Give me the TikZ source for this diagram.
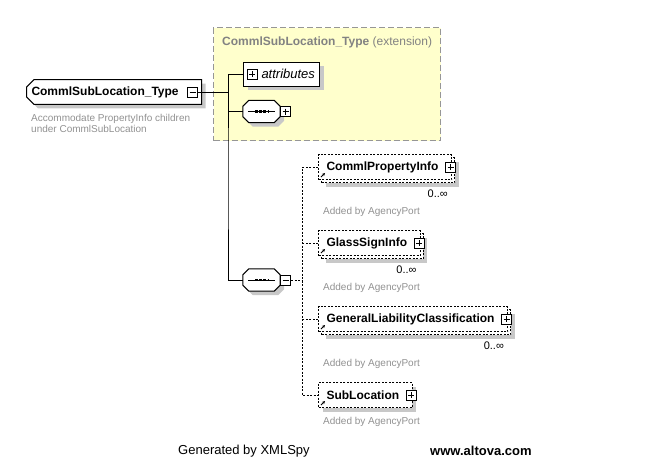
\documentclass[tikz,border=0pt]{standalone}
\usepackage{fontspec}
\setmainfont{Liberation Sans}
\usetikzlibrary{shapes.misc, arrows.meta, positioning, shadows}
\definecolor{extYellow}{RGB}{255, 255, 204}
\definecolor{extBorder}{RGB}{150, 150, 150}
\definecolor{shadowGray}{RGB}{200, 200, 200}
\definecolor{noteGray}{RGB}{145, 145, 145}
\definecolor{titleGray}{RGB}{130, 130, 130}
\tikzset{
    % Shadow under the boxes
    boxShadow/.style={
        drop shadow={fill=shadowGray, opacity=1, shadow xshift=#1, shadow yshift=-#1}
    },
    % Base style for all boxes
    schemaBox/.style={
        draw=black,
        fill=white,
        line width=1pt,
        text=black
    },
    % Specific styles
    typeBox/.style={
        schemaBox, boxShadow=4pt,
        chamfered rectangle,
        chamfered rectangle corners={north west, south west},
        chamfered rectangle xsep=4pt,
        minimum height=24pt,
        inner xsep=1pt,
        anchor=west,
        font=\bfseries\fontsize{12}{14}\selectfont,
        execute at end node={\hspace*{18pt}}
    },
    attrBox/.style={
        schemaBox, rectangle, boxShadow=4pt,
        minimum height=24pt, inner xsep=5pt, anchor=west,
        font=\itshape\fontsize{13}{15}\selectfont,
        execute at begin node={\hspace*{13pt}}
    },
    % Sequence compositor: the node holds the place, the outline is drawn round it
    seqBox/.style={
        rectangle, minimum width=37pt, minimum height=22pt, inner sep=0pt
    },
    seqOutline/.style={schemaBox, boxShadow=4pt},
    seqDots/.style={line width=2.6pt, dash pattern=on 2.6pt off 1.6pt},
    elemBase/.style={
        schemaBox, rectangle,
        dash pattern=on 2pt off 1.5pt,
        minimum height=25pt, inner xsep=8pt, anchor=west,
        font=\bfseries\fontsize{12}{14}\selectfont,
        execute at end node={\hspace*{5pt}},
        path picture={
            \draw[solid, line width=0.8pt, -{Stealth[length=3pt, width=3pt]}]
                ([shift={(2.5pt,2.5pt)}]path picture bounding box.south west) -- ++(4pt,4pt);
        }
    },
    elemSingle/.style={elemBase, boxShadow=4pt},
    elemMulti/.style={elemBase, boxShadow=7pt, copy shadow={shadow xshift=3pt, shadow yshift=-3pt}},
    % Expand and collapse buttons
    plusBox/.style={
        rectangle, draw=black, fill=white, solid, line width=0.8pt,
        minimum size=10pt, inner sep=0pt,
        path picture={
            \draw[line width=0.8pt] ([xshift=2pt]path picture bounding box.west) -- ([xshift=-2pt]path picture bounding box.east)
                ([yshift=-2pt]path picture bounding box.north) -- ([yshift=2pt]path picture bounding box.south);
        }
    },
    minusBox/.style={
        rectangle, draw=black, fill=white, solid, line width=0.8pt,
        minimum size=10pt, inner sep=0pt,
        path picture={
            \draw[line width=0.8pt] ([xshift=2pt]path picture bounding box.west) -- ([xshift=-2pt]path picture bounding box.east);
        }
    },
    % Group frame
    extFrame/.style={
        rectangle, draw=extBorder, fill=extYellow,
        line width=1pt, dash pattern=on 6pt off 3pt
    },
    extLabel/.style={font=\fontsize{12}{14}\selectfont, text=titleGray, anchor=west, inner sep=0pt},
    % Connector and text styles
    conn/.style={draw=black, line width=1pt},
    branchLine/.style={conn, dash pattern=on 2pt off 1.5pt},
    noteText/.style={font=\fontsize{10}{11}\selectfont, text=noteGray, inner sep=0pt, align=left},
    occText/.style={font=\fontsize{11}{13}\selectfont, inner sep=0pt},
    footText/.style={font=\fontsize{13}{15}\selectfont, inner sep=0pt, anchor=west}
}
\begin{document}
\begin{tikzpicture}[x=1pt, y=-1pt]
    \useasboundingbox (0,0) rectangle (650,467);

    % --- Extension group ---
    \node (extGroup) [extFrame, minimum width=227pt, minimum height=113pt, anchor=north west] at (213,27) {};
    \node (extTitle) [extLabel] at (222,42) {\textbf{CommlSubLocation\_Type} (extension)};

    % --- Complex type ---
    \node (typeElem) [typeBox] at (26,92) {CommlSubLocation\_Type};
    \node (typeMinus) [minusBox, left=4pt of typeElem.east] {};
    \node (typeNote) [noteText, anchor=north west] at (31,114) {Accommodate PropertyInfo children\\under CommlSubLocation};

    % --- Attributes and compositors ---
    \node (attrNode) [attrBox] at (243,74) {attributes};
    \node (attrPlus) [plusBox, right=4pt of attrNode.west] {};
    \node (seqTop) [seqBox] at (261.5,111.5) {};
    \node (seqBot) [seqBox] at (261.5,280) {};
    \foreach \seq in {seqTop, seqBot} {
        \draw [seqOutline] ([xshift=6pt]\seq.north west) -- ([xshift=-6pt]\seq.north east)
            -- ([yshift=-6pt]\seq.north east) -- ([yshift=6pt]\seq.south east)
            -- ([xshift=-6pt]\seq.south east) -- ([xshift=6pt]\seq.south west)
            -- ([yshift=6pt]\seq.south west) -- ([yshift=-6pt]\seq.north west) -- cycle;
        \draw [line width=1pt] ([xshift=5pt]\seq.west) -- ([xshift=-5pt]\seq.east);
        \draw [seqDots] ([xshift=-6.5pt]\seq.center) -- ([xshift=6.5pt]\seq.center);
    }
    \node (seqTopPlus) [plusBox, right=0pt of seqTop.east] {};
    \node (seqBotMinus) [minusBox, right=0pt of seqBot.east] {};
    \coordinate (trunk) at (228,180);
    \coordinate (fork) at (302,280);

    % --- Child elements ---
    \node (propElem) [elemMulti] at (318,167) {CommlPropertyInfo};
    \node (propPlus) [plusBox, left=-4pt of propElem.east] {};
    \node (propOcc) [occText, below left=10pt and 4pt of propElem.south east] {0..∞};
    \node (propNote) [noteText, below right=27pt and 5pt of propElem.south west] {Added by AgencyPort};

    \node (glassElem) [elemMulti] at (318,243) {GlassSignInfo};
    \node (glassPlus) [plusBox, left=-4pt of glassElem.east] {};
    \node (glassOcc) [occText, below left=10pt and 4pt of glassElem.south east] {0..∞};
    \node (glassNote) [noteText, below right=27pt and 5pt of glassElem.south west] {Added by AgencyPort};

    \node (genElem) [elemMulti] at (318,319) {GeneralLiabilityClassification};
    \node (genPlus) [plusBox, left=-4pt of genElem.east] {};
    \node (genOcc) [occText, below left=10pt and 4pt of genElem.south east] {0..∞};
    \node (genNote) [noteText, below right=27pt and 5pt of genElem.south west] {Added by AgencyPort};

    \node (subElem) [elemSingle] at (318,395) {SubLocation};
    \node (subPlus) [plusBox, left=-4pt of subElem.east] {};
    \node (subNote) [noteText, below right=9pt and 5pt of subElem.south west] {Added by AgencyPort};

    % --- Connectors ---
    \draw [conn] (typeMinus.east) -- (typeMinus.east -| trunk);
    \draw [conn] (attrNode.west) -| (trunk) |- (seqBot.west);
    \draw [conn] (seqTop.west) -- (seqTop.west -| trunk);
    \draw [branchLine] (seqBotMinus.east) -- (fork);
    \draw [branchLine] (propElem.west) -| (fork) |- (subElem.west);
    \draw [branchLine] (glassElem.west) -- (glassElem.west -| fork);
    \draw [branchLine] (genElem.west) -- (genElem.west -| fork);

    % --- Footer ---
    \node (genLabel) [footText] at (178,451) {Generated by XMLSpy};
    \node (siteLabel) [footText, font=\bfseries\fontsize{13}{15}\selectfont] at (430,451) {www.altova.com};

\end{tikzpicture}
\end{document}
